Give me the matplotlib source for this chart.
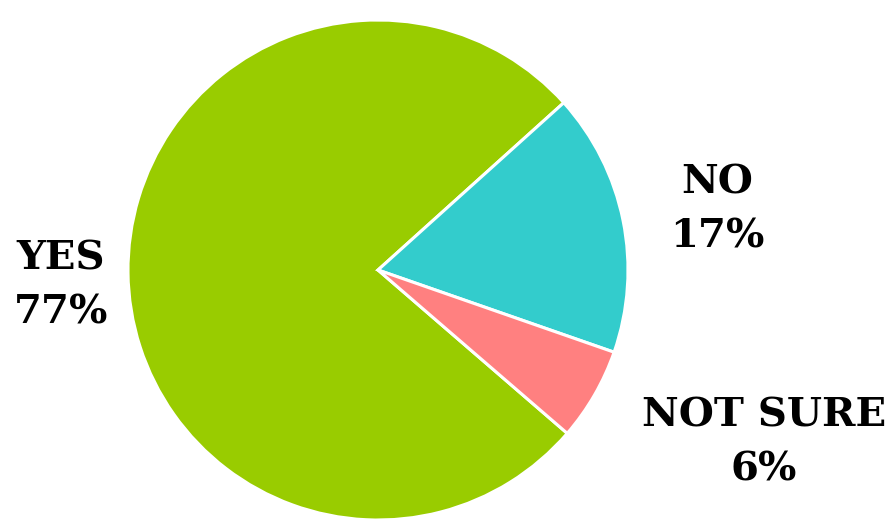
import numpy as np
import matplotlib

matplotlib.use("Agg")
import matplotlib.pyplot as plt

labels = ["YES", "NO", "NOT SURE"]
shares = [77, 17, 6]
colors = ["#99cc00", "#33cccc", "#ff8080"]
# label distance from centre (in radii) and angle offset (deg) per slice
label_r = [1.27, 1.38, 1.69]
label_da = [2.2, -1.3, 5.9]

fig = plt.figure(figsize=(8.91, 5.24), dpi=100)
ax = fig.add_axes([0, 0, 1, 1])
wedges, _ = ax.pie(shares, colors=colors, startangle=-40.8, counterclock=False,
                   radius=1.0, wedgeprops=dict(edgecolor="white", linewidth=2.2))
for w, lab, v, r, da in zip(wedges, labels, shares, label_r, label_da):
    mid = np.deg2rad((w.theta1 + w.theta2) / 2 + da)
    ax.text(r * np.cos(mid), r * np.sin(mid), f"{lab}\n{v}%", ha="center", va="center",
            family="DejaVu Serif", fontweight="bold", fontsize=29, linespacing=1.55)

ax.set_xlim(-1.512, 2.052)
ax.set_ylim(-1.016, 1.08)
ax.set_aspect("equal")
ax.axis("off")
fig.savefig("out.png", dpi=100, facecolor="white")
